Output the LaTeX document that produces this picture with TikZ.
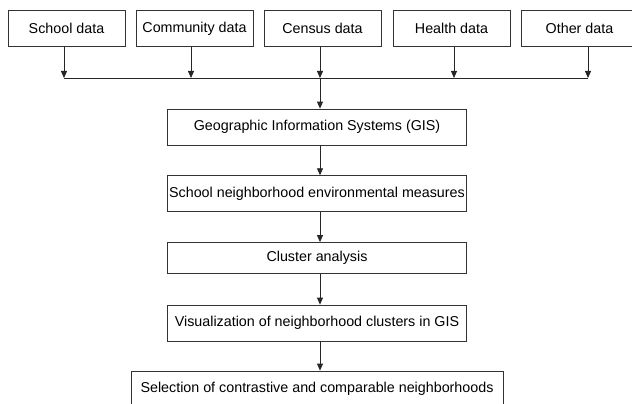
\documentclass[tikz,border=0pt]{standalone}
\usepackage{fontspec}
\setmainfont{Liberation Sans}
\usetikzlibrary{arrows.meta,positioning}

\begin{document}
\begin{tikzpicture}[x=1pt,y=-1pt,
    box/.style={draw=black!80,line width=0.8pt,minimum height=36pt,inner sep=0pt,
        font=\fontsize{14.3}{16}\selectfont},
    src/.style={box,minimum width=117pt},
    stage/.style={box,minimum width=299pt},
    link/.style={draw=black!85,line width=0.8pt},
    flow/.style={link,-{Triangle[length=7pt,width=6pt]}}]
    \clip (0,0) rectangle (632,404);
    \node[src] (school) at (66.5,28.7) {School data};
    \node[src] (community) at (194.5,28.7) {Community data};
    \node[src] (census) at (322.5,28.7) {Census data};
    \node[src] (health) at (451.5,28.7) {Health data};
    \node[src] (other) at (579.5,28.7) {Other data};
    \draw[link] (64,78) coordinate (busL) -- (588,78) coordinate (busR);
    \foreach \n/\s in {school/-2.5,community/-3.5,census/-2.5,health/2.5,other/8.5}
        \draw[flow] ([xshift=\s]\n.south) -- ([xshift=\s]\n.south |- busL);
    \node[stage] (gis) at (317,127) {Geographic Information Systems (GIS)};
    \node[stage] (env) at (317,193.7) {School neighborhood environmental measures};
    \node[stage,minimum height=31pt] (cluster) at (317,258) {Cluster analysis};
    \node[stage] (vis) at (317,323) {Visualization of neighborhood clusters in GIS};
    \node[box,minimum width=372pt] (select) at (317,389) {Selection of contrastive and comparable neighborhoods};
    \draw[flow] ([xshift=3]gis.north |- busL) -- ([xshift=3]gis.north);
    \foreach \a/\b in {gis/env,env/cluster,cluster/vis,vis/select}
        \draw[flow] ([xshift=3]\a.south) -- ([xshift=3]\b.north);
\end{tikzpicture}
\end{document}
